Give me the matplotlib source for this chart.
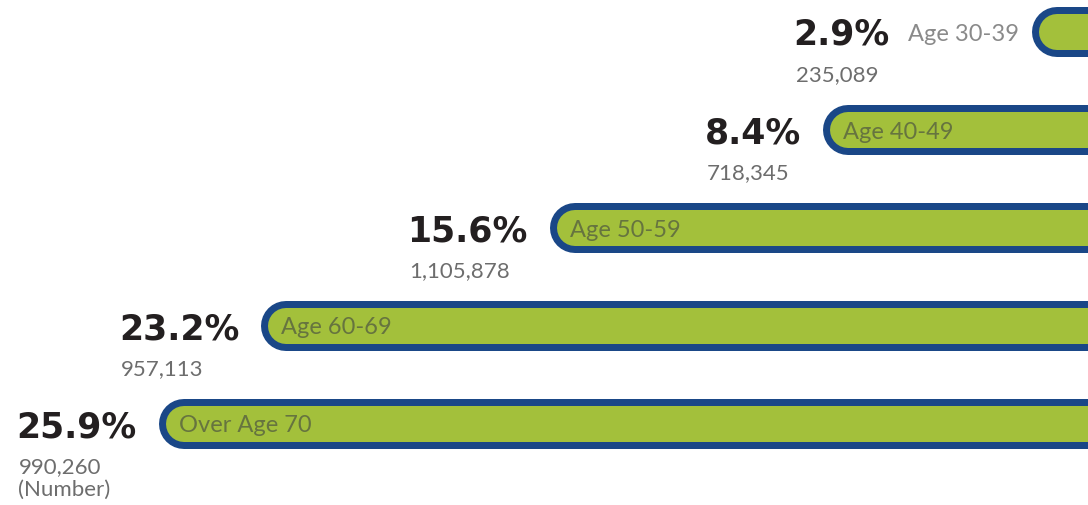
import matplotlib.pyplot as plt

ages = ['Age 30-39', 'Age 40-49', 'Age 50-59', 'Age 60-69', 'Over Age 70']
shares = [2.9, 8.4, 15.6, 23.2, 25.9]
counts = ['235,089', '718,345', '1,105,878', '957,113', '990,260']

blue = '#1a4787'
green = '#a3c03b'
PX = 0.72  # points per pixel at dpi 100

fig = plt.figure(figsize=(10.88, 5.05), dpi=100)
ax = fig.add_axes([0, 0, 1, 1])
# bars grow to the left from an origin beyond the right edge
ax.set_xlim(30.74, 2.08)
ax.set_ylim(4.83, -0.33)
ax.axis('off')

for i, (age, p, n) in enumerate(zip(ages, shares, counts)):
    ax.plot([0, p], [i, i], color=blue, lw=50 * PX, solid_capstyle='round')
    ax.plot([0, p], [i, i], color=green, lw=36 * PX, solid_capstyle='round')
    if p < 5:
        # bar too short: label sits outside
        lab = ax.annotate(age, (p, i), xytext=(-38 * PX, 0), textcoords='offset points',
                          ha='right', va='center_baseline', fontsize=17, color='#8a8a8a',
                          family='Lato')
        pct = ax.annotate(f'{p}%', xy=(0, 0.5), xycoords=lab, xytext=(-18 * PX, 0),
                          textcoords='offset points', ha='right', va='center',
                          fontsize=25, weight='bold', color='#231f20')
    else:
        ax.annotate(age, (p, i), xytext=(-5 * PX, 0), textcoords='offset points',
                    ha='left', va='center_baseline', fontsize=17, color='#66743f',
                    family='Lato')
        pct = ax.annotate(f'{p}%', (p, i), xytext=(-47 * PX, 0), textcoords='offset points',
                          ha='right', va='center_baseline', fontsize=25, weight='bold',
                          color='#231f20')
    txt = n + ('\n(Number)' if i == len(ages) - 1 else '')
    ax.annotate(txt, xy=(0, i), xycoords=(pct, 'data'), xytext=(2 * PX, -33 * PX),
                textcoords='offset points', ha='left', va='top', fontsize=16,
                color='#6d6d6d', family='Lato', linespacing=1.2)

fig.savefig('out.png', dpi=100, facecolor='white')
